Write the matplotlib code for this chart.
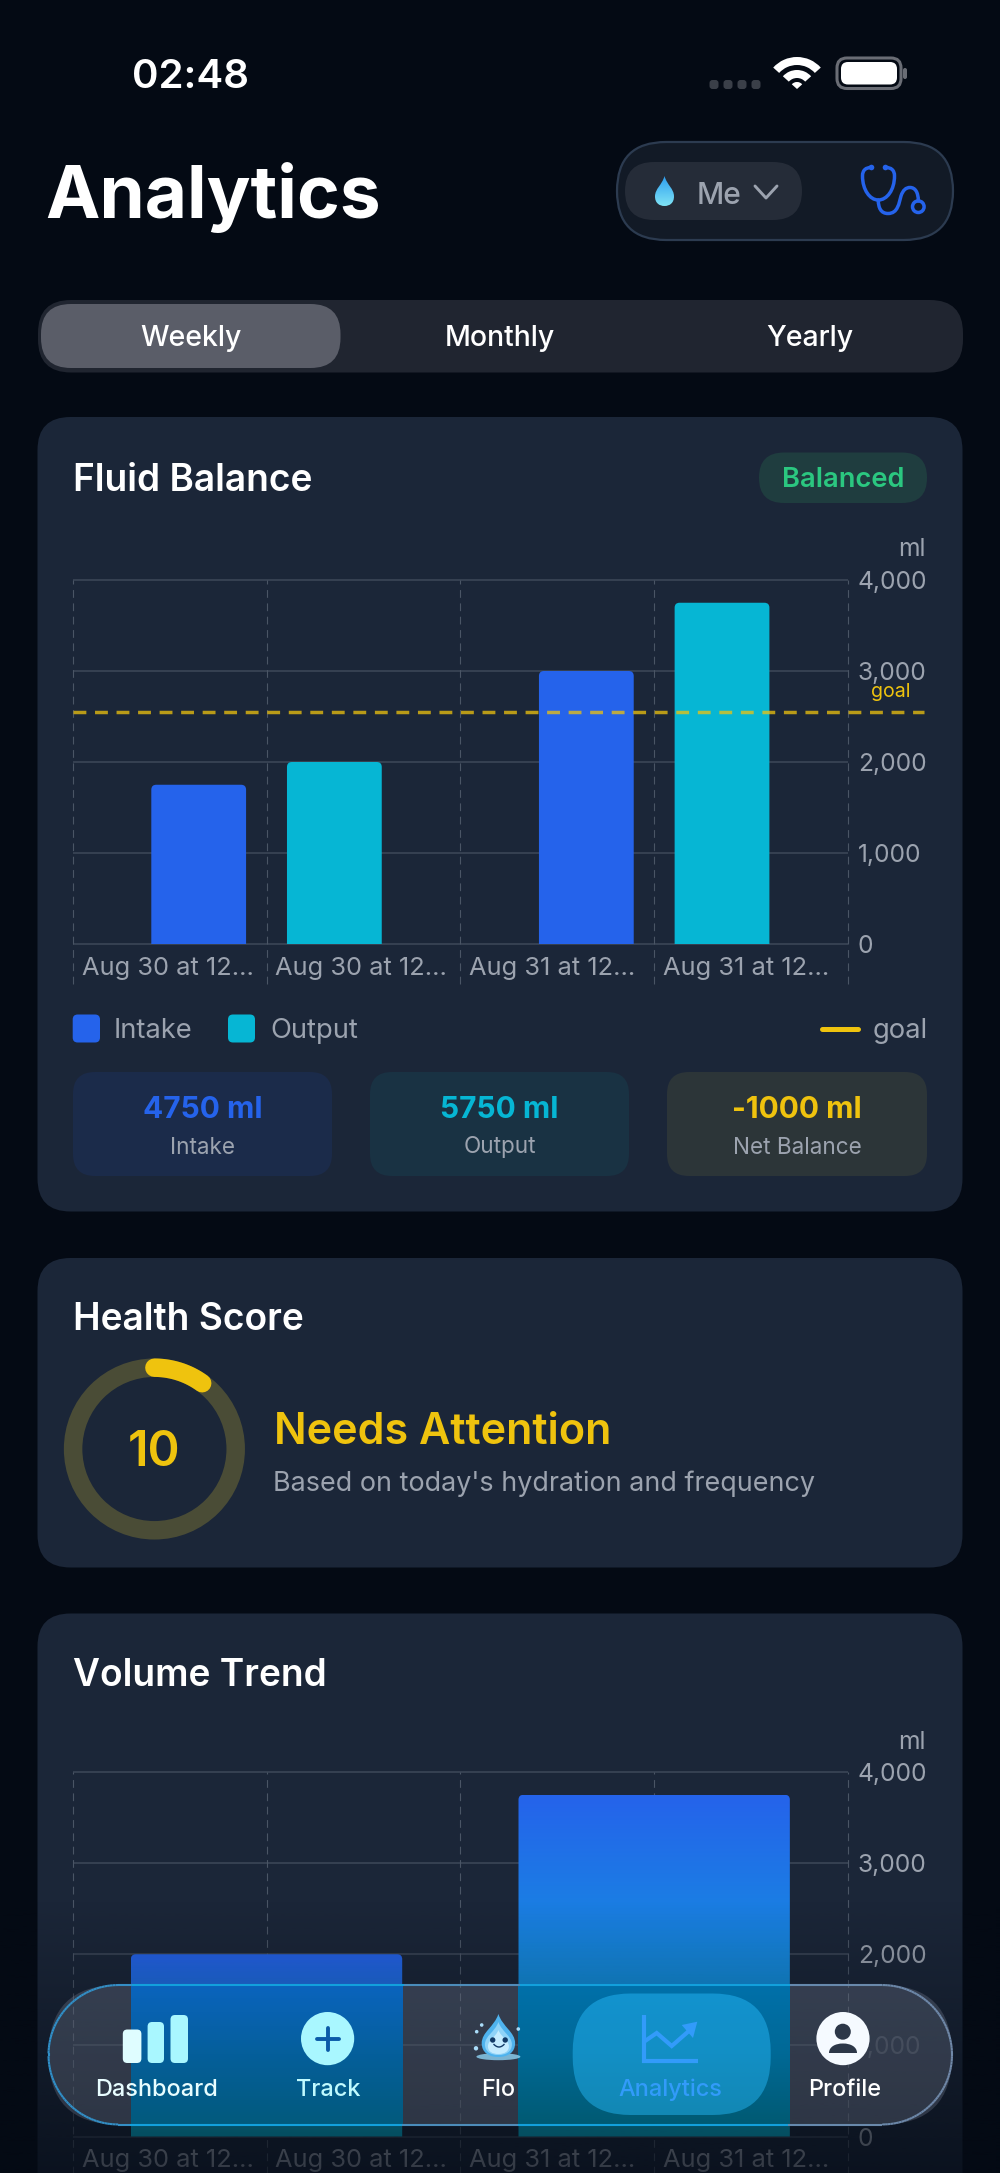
import numpy as np
import matplotlib
matplotlib.use("Agg")
import matplotlib.pyplot as plt
from matplotlib.patches import FancyBboxPatch, PathPatch, Circle, Wedge, Ellipse
from matplotlib.path import Path
from matplotlib.collections import LineCollection
from matplotlib.colors import to_rgb

plt.rcParams['font.family'] = ['Inter', 'DejaVu Sans']

# ---- data ----
slot_labels = ["Aug 30 at 12...", "Aug 30 at 12...", "Aug 31 at 12...", "Aug 31 at 12..."]
y_ticks = [0, 1000, 2000, 3000, 4000]
group_pos = [1, 3]
intake_values = [1750, 3000]
output_values = [2000, 3750]
goal_value = 2550
volume_values = [2000, 3750]
health_score = 10
tabs = ["Weekly", "Monthly", "Yearly"]
stat_values = ["4750 ml", "5750 ml", "-1000 ml"]
stat_labels = ["Intake", "Output", "Net Balance"]
nav_labels = ["Dashboard", "Track", "Flo", "Analytics", "Profile"]

BG = '#040A14'; CARD = '#1B2638'; GREY = '#9CA3AF'; BLUE = '#2563EB'; CYAN = '#06B6D4'; YEL = '#EFC30E'
W, H = 1000, 2173
DY = 4.5  # optical centring of centred text
fig = plt.figure(figsize=(10, 21.73), dpi=100, facecolor=BG)

def px_axes(z):
    a = fig.add_axes([0, 0, 1, 1], zorder=z)
    a.set_xlim(0, W); a.set_ylim(H, 0); a.axis('off'); a.patch.set_visible(False)
    return a

ui = px_axes(0)
top = px_axes(5)

def rrect(a, x0, y0, x1, y1, r, fc, ec='none', lw=0, alpha=None, z=1):
    p = FancyBboxPatch((x0 + r, y0 + r), x1 - x0 - 2 * r, y1 - y0 - 2 * r,
                       boxstyle=f"round,pad={r},rounding_size={r}", fc=fc, ec=ec, lw=lw, alpha=alpha, zorder=z)
    a.add_patch(p)
    return p

def drop(a, cx, t, b, w, fc, z=3):
    h = b - t
    verts = [(cx, t), (cx + .25 * w, t + .3 * h), (cx + w, t + .42 * h), (cx + w, t + .68 * h),
             (cx + w, b - .1 * h), (cx + .55 * w, b), (cx, b),
             (cx - .55 * w, b), (cx - w, b - .1 * h), (cx - w, t + .68 * h),
             (cx - w, t + .42 * h), (cx - .25 * w, t + .3 * h), (cx, t)]
    codes = [Path.MOVETO] + [Path.CURVE4] * 12
    p = PathPatch(Path(verts, codes), fc=fc, ec='none', zorder=z)
    a.add_patch(p)
    return p

def label(a, x, y, s, **kw):
    kw.setdefault('va', 'center')
    kw.setdefault('ha', 'center')
    return a.text(x, y + DY, s, **kw)

# ---- status bar ----
label(ui, 190, 73, "02:48", color='white', fontsize=29, fontweight='semibold')
for x in [714, 728, 742, 756]:
    rrect(ui, x - 4.5, 80, x + 4.5, 89, 3, '#3A3F48')
for r0, r1 in [(32, 24), (19, 11)]:
    ui.add_patch(Wedge((797, 89), r0, 222, 318, width=r0 - r1, fc='white', ec='none'))
ui.add_patch(Wedge((797, 89), 7, 222, 318, fc='white', ec='none'))
rrect(ui, 837, 58, 901, 88.5, 10, 'none', '#6A6D75', 2.2)
rrect(ui, 841, 62, 897, 84.5, 7, 'white')
rrect(ui, 903, 68, 907, 79, 2, '#6A6D75')

# ---- header ----
ui.text(45, 218, "Analytics", color='white', fontsize=52.5, fontweight='bold', ha='left', va='baseline')
rrect(ui, 617, 142, 953, 240, 49, '#121A26', '#2C3B50', 1.6)
rrect(ui, 625, 162, 802, 220, 29, '#252C38')
dp = drop(ui, 664.5, 176, 206, 9.5, 'none')
dg = np.zeros((64, 1, 3))
dg[:, 0, :] = np.array(to_rgb('#2E9FF0'))[None, :] * (1 - np.linspace(0, 1, 64))[:, None] + np.array(to_rgb('#7FE3F5'))[None, :] * np.linspace(0, 1, 64)[:, None]
im = ui.imshow(dg, extent=[655, 674, 206, 176], aspect='auto', origin='upper', zorder=3)
im.set_clip_path(dp)
ui.set_xlim(0, W); ui.set_ylim(H, 0)
label(ui, 697, 191, "Me", color=GREY, fontsize=21.5, fontweight='medium', ha='left')
ui.plot([755, 766, 777], [186, 198, 186], color=GREY, lw=2.1, solid_capstyle='round', solid_joinstyle='round')
steth = Path([(871, 167.5), (866, 167.5), (862.5, 170), (862.5, 176), (862.5, 190), (870, 200), (878.3, 200),
              (887, 200), (894.5, 190), (894.5, 176), (894.5, 170), (891, 167.5), (886, 167.5)],
             [Path.MOVETO] + [Path.CURVE4] * 12)
ui.add_patch(PathPatch(steth, fc='none', ec=BLUE, lw=2.5, capstyle='round'))
tube = Path([(878.3, 200), (878.3, 208), (881, 213.5), (888, 213.5), (898, 213.5), (899, 203), (901, 196),
             (903, 190), (906, 187.5), (910, 187.5), (915, 187.5), (918.3, 192), (918.3, 201)],
            [Path.MOVETO] + [Path.CURVE4] * 12)
ui.add_patch(PathPatch(tube, fc='none', ec=BLUE, lw=2.5, capstyle='round'))
ui.add_patch(Circle((918.3, 206.7), 5.8, fc='none', ec=BLUE, lw=2.5))
ui.add_patch(Circle((871.5, 167.5), 2.8, fc=BLUE, ec='none'))
ui.add_patch(Circle((885.5, 167.5), 2.8, fc=BLUE, ec='none'))

# ---- tabs ----
rrect(ui, 38, 300, 963, 372.5, 33, '#202530')
rrect(ui, 41, 304, 340.5, 368, 30, '#5A5D68')
for t, x in zip(tabs, [191, 500, 809.5]):
    label(ui, x, 334.5, t, color='white', fontsize=20.5, fontweight='medium')

# ---- cards ----
rrect(ui, 37.5, 417, 962.5, 1211.5, 33, CARD)
rrect(ui, 37.5, 1258, 962.5, 1567.5, 33, CARD)
rrect(ui, 37.5, 1613.5, 962.5, 2300, 33, CARD)
for txt, y in [("Fluid Balance", 490.8), ("Health Score", 1330), ("Volume Trend", 1686)]:
    ui.text(73, y, txt, color='white', fontsize=26.7, fontweight='semibold', ha='left', va='baseline')

rrect(ui, 759, 452.5, 927, 503, 25, '#1F3D3F')
label(ui, 843, 475.5, "Balanced", color='#2BC780', fontsize=19.7, fontweight='semibold')

# ---- charts ----
def chart_axes(y4000, y0):
    a = fig.add_axes([72.7 / W, 1 - y0 / H, (848 - 72.7) / W, (y0 - y4000) / H], zorder=2)
    a.patch.set_visible(False)
    for s in a.spines.values():
        s.set_visible(False)
    a.set_xlim(0, 4); a.set_ylim(0, 4000)
    a.yaxis.tick_right()
    a.set_yticks(y_ticks)
    a.set_yticklabels([f"{v:,}" for v in y_ticks])
    a.set_xticks(np.arange(len(slot_labels)) + .046)
    a.set_xticklabels(slot_labels, ha='left')
    a.tick_params(axis='both', length=0, labelcolor=GREY, labelsize=17.7)
    a.tick_params(axis='x', pad=9, labelsize=18.3)
    a.tick_params(axis='y', pad=7)
    a.hlines(y_ticks, 0, 4, color='#3D4859', lw=1.1, zorder=1, clip_on=False)
    a.vlines(range(5), -445, 4000, color='#4A5565', lw=.8, linestyles=(0, (7, 5)), zorder=1, clip_on=False)
    return a

def rounded_bar(a, xc, w, h, r=5):
    bb = a.get_position()
    sx = bb.width * W / (a.get_xlim()[1] - a.get_xlim()[0])
    sy = bb.height * H / (a.get_ylim()[1] - a.get_ylim()[0])
    rx, ry = r / sx, r / sy
    x0, x1 = xc - w / 2, xc + w / 2
    return Path([(x0, 0), (x0, h - ry), (x0, h), (x0 + rx, h), (x1 - rx, h), (x1, h), (x1, h - ry), (x1, 0), (x0, 0)],
                [Path.MOVETO, Path.LINETO, Path.CURVE3, Path.CURVE3, Path.LINETO, Path.CURVE3, Path.CURVE3, Path.LINETO, Path.CLOSEPOLY])

c1 = chart_axes(580, 944)
bw = .489
for g, iv, ov in zip(group_pos, intake_values, output_values):
    c1.add_patch(PathPatch(rounded_bar(c1, g - .35, bw, iv), fc=BLUE, ec='none', zorder=3))
    c1.add_patch(PathPatch(rounded_bar(c1, g + .35, bw, ov), fc=CYAN, ec='none', zorder=3))
c1.plot([0, 4.39], [goal_value, goal_value], color=YEL, alpha=.75, lw=2.5, linestyle=(0, (3.7, 2.5)), zorder=4, clip_on=False)
c1.text(4.22, 2765, "goal", color=YEL, fontsize=14, ha='center', va='center')
label(ui, 925.5, 545, "ml", color=GREY, fontsize=17.7, ha='right')

c2 = chart_axes(1772, 2136.5)
c2.get_yticklabels()[1].set_alpha(.3)
label(ui, 925.5, 1738, "ml", color=GREY, fontsize=17.7, ha='right')
c_top = np.array(to_rgb(BLUE)); c_bot = np.array(to_rgb(CYAN))
grad = np.zeros((256, 1, 3))
tt = np.linspace(0, 1, 256)
grad[:, 0, :] = c_top[None, :] * (1 - tt[:, None]) + c_bot[None, :] * tt[:, None]
for g, v in zip(group_pos, volume_values):
    patch = PathPatch(rounded_bar(c2, g, 1.4, v), fc='none', ec='none', zorder=3)
    c2.add_patch(patch)
    im = c2.imshow(grad, extent=[g - .7, g + .7, 0, v], aspect='auto', origin='upper', zorder=3)
    im.set_clip_path(patch)
c2.set_xlim(0, 4); c2.set_ylim(0, 4000)

# ---- legend ----
rrect(ui, 72.7, 1014.5, 100, 1042.5, 5, BLUE)
rrect(ui, 228, 1014.5, 255, 1042.5, 5, CYAN)
label(ui, 113.5, 1026.5, "Intake", color=GREY, fontsize=19.7, ha='left')
label(ui, 270, 1026.5, "Output", color=GREY, fontsize=19.7, ha='left')
ui.plot([822, 858], [1028.6, 1028.6], color=YEL, lw=3.6, solid_capstyle='round')
label(ui, 873, 1026.5, "goal", color=GREY, fontsize=19.7, ha='left')

# ---- stat boxes ----
boxes = [(73, 332, '#1B2B4A', BLUE), (370, 629, '#193243', CYAN), (667, 927, '#2C3538', YEL)]
for (x0, x1, fc, col), v, l in zip(boxes, stat_values, stat_labels):
    rrect(ui, x0, 1072, x1, 1176, 22, fc)
    xc = (x0 + x1) / 2
    label(ui, xc, 1105.5, v, color=col, fontsize=21.5, fontweight='bold')
    label(ui, xc, 1143, l, color=GREY, fontsize=16.2)

# ---- health score ----
cx, cy, rr = 154.4, 1449, 81.3
ui.add_patch(Circle((cx, cy), rr, fc='none', ec='#4A4C36', lw=13.3))
th = np.linspace(0, 2 * np.pi * health_score / 100, 60)
ui.plot(cx + rr * np.sin(th), cy - rr * np.cos(th), color=YEL, lw=13.3, solid_capstyle='round')
label(ui, cx, 1448, str(health_score), color=YEL, fontsize=35, fontweight='semibold')
ui.text(274, 1444, "Needs Attention", color=YEL, fontsize=31, fontweight='semibold', ha='left', va='baseline')
label(ui, 273, 1479, "Based on today's hydration and frequency", color=GREY, fontsize=19.4, ha='left')

# ---- bottom scrim ----
sc = np.zeros((256, 1, 4))
sc[:, 0, :3] = to_rgb(BG)
sc[:, 0, 3] = np.linspace(0, .7, 256)
top.imshow(sc, extent=[0, W, H, 1900], aspect='auto', origin='upper', zorder=1)
top.set_xlim(0, W); top.set_ylim(H, 0)

# ---- nav pill ----
nx0, nx1, ny0, ny1 = 48.5, 952, 1985, 2124.5
rr_nav = 69.7
nav = rrect(top, nx0, ny0, nx1, ny1, rr_nav, (178 / 255, 186 / 255, 208 / 255, .2), z=2)

# the pill's backdrop is saturated where it sits on a bar
bar_tints = [[(10, 100, 190), (5, 95, 155), (2, 90, 125)], [(0, 112, 170), (0, 105, 150), (0, 90, 115)]]
bar_spans = []
for g, stops in zip(group_pos, bar_tints):
    xa = c2.transData.transform((g - .7, 0))[0]
    xb = c2.transData.transform((g + .7, 0))[0]
    bar_spans.append((xa, xb))
    s = np.array(stops) / 255
    tn = np.zeros((128, 1, 3))
    for k in range(3):
        tn[:, 0, k] = np.interp(np.linspace(0, 2, 128), [0, 1, 2], s[:, k])
    im = top.imshow(tn, extent=[xa, xb, ny1, ny0], aspect='auto', origin='upper', zorder=2.5)
    im.set_clip_path(nav)
top.set_xlim(0, W); top.set_ylim(H, 0)

a1 = np.linspace(np.pi / 2, 3 * np.pi / 2, 80)
left = np.column_stack([nx0 + rr_nav + rr_nav * np.cos(a1), (ny0 + ny1) / 2 + rr_nav * np.sin(a1)])
topline = np.column_stack([np.linspace(nx0 + rr_nav, nx1 - rr_nav, 400), np.full(400, ny0)])
a2 = np.linspace(-np.pi / 2, np.pi / 2, 80)
right = np.column_stack([nx1 - rr_nav + rr_nav * np.cos(a2), (ny0 + ny1) / 2 + rr_nav * np.sin(a2)])
botline = np.column_stack([np.linspace(nx1 - rr_nav, nx0 + rr_nav, 400), np.full(400, ny1)])
outline = np.vstack([left, topline, right, botline])
segs = np.stack([outline[:-1], outline[1:]], axis=1)
f = (segs[:, 0, 0] - nx0) / (nx1 - nx0)
cl = np.array(to_rgb('#2F8FC8'))[None, :] * (1 - f[:, None]) + np.array(to_rgb('#7088A8'))[None, :] * f[:, None]
for xa, xb in bar_spans:
    cl[(segs[:, 0, 0] >= xa) & (segs[:, 0, 0] <= xb)] = to_rgb('#12A0DC')
top.add_collection(LineCollection(segs, colors=cl, linewidths=1.5, zorder=4))
rrect(top, 572.7, 1993.5, 770.7, 2115, 58, (40 / 255, 190 / 255, 1, .45), z=3)

ICON = '#A9F7FF'
for x, w, y0 in [(122.8, 18.6, 2029.5), (147.6, 16.4, 2022), (170.5, 17.5, 2015)]:
    rrect(top, x, y0, x + w, 2063, 4.5, ICON if x > 130 else '#DFFDFF', z=5)
top.add_patch(Circle((327.6, 2038.6), 26.6, fc=ICON, ec='none', zorder=5))
top.plot([316.5, 338.5], [2038.6, 2038.6], color='#0A5AA8', lw=2.8, solid_capstyle='round', zorder=6)
top.plot([327.6, 327.6], [2027.5, 2049.7], color='#0A5AA8', lw=2.8, solid_capstyle='round', zorder=6)

# mascot
top.add_patch(Ellipse((498.4, 2056.7), 44, 7, fc='#8FD4F5', ec='none', alpha=.8, zorder=5))
drop(top, 498.4, 2014, 2057, 16.7, '#4FB3EE', z=5)
drop(top, 498.4, 2022, 2055, 13.5, '#8FD3F8', z=6)
drop(top, 498.4, 2030, 2054, 10.5, '#C5ECFF', z=6)
top.add_patch(Circle((492.7, 2040), 2.7, fc='#123A66', zorder=7))
top.add_patch(Circle((505.2, 2040), 2.7, fc='#123A66', zorder=7))
sm = np.linspace(-1, 1, 20)
top.plot(499 + 5 * sm, 2044.5 + 2.5 * (1 - sm ** 2), color='#123A66', lw=1, zorder=7)
for px, py, r in [(481.7, 2025, 1.8), (476.7, 2031.7, 1.8), (518.3, 2029, 1.8), (476, 2048.3, 2.2)]:
    top.add_patch(Circle((px, py), r, fc='#AADCF8', zorder=5))

# chart icon
CH = '#329BFA'
top.plot([644, 644, 698], [2015, 2061, 2061], color=CH, lw=3, solid_capstyle='butt', solid_joinstyle='miter', zorder=5)
top.plot([646.5, 656.7, 671.7, 690], [2040, 2033, 2046, 2030], color=CH, lw=3, solid_joinstyle='miter', zorder=5)
top.add_patch(PathPatch(Path([(681.7, 2025), (697.3, 2021.7), (693, 2038), (681.7, 2025)]), fc=CH, ec='none', zorder=5))

# profile
top.add_patch(Circle((843, 2038.6), 26.6, fc='#F5FAFF', ec='none', zorder=5))
top.add_patch(Circle((842.8, 2031.7), 8, fc='#2C3748', ec='none', zorder=6))
body = Path([(829, 2053), (829, 2047), (835, 2043.5), (843, 2043.5), (851, 2043.5), (857, 2047), (857, 2053), (829, 2053)],
            [Path.MOVETO, Path.CURVE4, Path.CURVE4, Path.CURVE4, Path.CURVE4, Path.CURVE4, Path.CURVE4, Path.CLOSEPOLY])
top.add_patch(PathPatch(body, fc='#2C3748', ec='none', zorder=6))

nav_x = [156.6, 328.6, 498.4, 670.5, 844.5]
nav_c = ['#E8FDFF', '#C0FAFF', 'white', '#329BFA', 'white']
for t, x, c in zip(nav_labels, nav_x, nav_c):
    label(top, x, 2085, t, color=c, fontsize=16.9, fontweight='medium', zorder=7)

fig.savefig('out.png', dpi=100, facecolor=BG)
